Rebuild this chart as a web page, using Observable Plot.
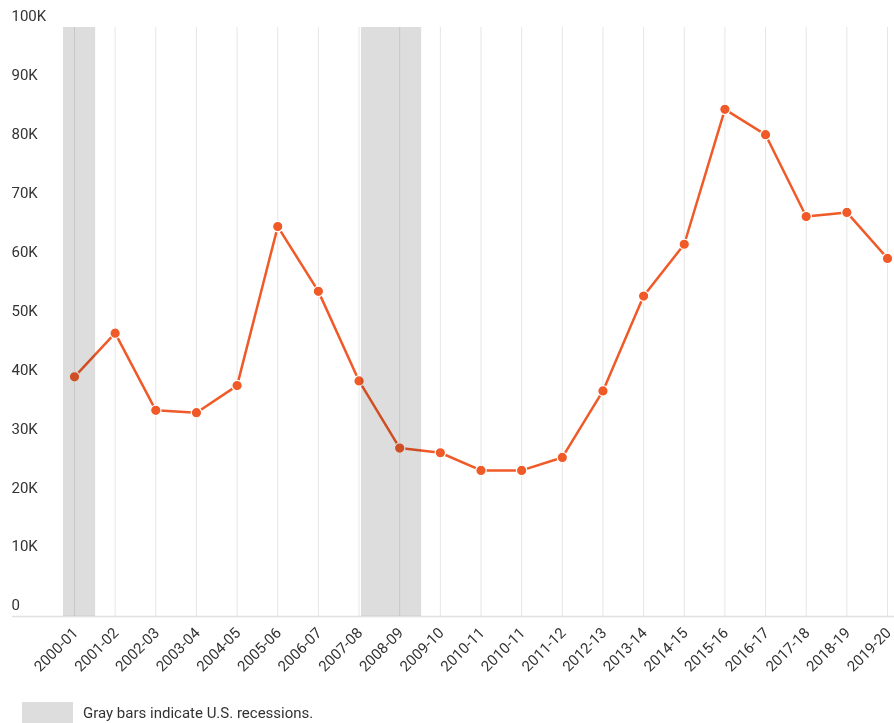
<!DOCTYPE html>
<html>
<head>
<meta charset="utf-8">
<script src="https://cdn.jsdelivr.net/npm/d3@7"></script>
<script src="https://cdn.jsdelivr.net/npm/@observablehq/plot@0.6"></script>
<style>
  html, body { margin: 0; padding: 0; background: #fff; }
  body { font-family: Roboto, "Open Sans", sans-serif; width: 894px; height: 723px; overflow: hidden; }
  #legend { display: flex; align-items: center; margin-left: 22px; margin-top: 12px; font-size: 15px; color: #333; }
  #legend .swatch { width: 51px; height: 22px; background: #dcdddc; margin-right: 10px; }
</style>
</head>
<body>
<div id="chart"></div>
<div id="legend"><div class="swatch"></div><span>Gray bars indicate U.S. recessions.</span></div>
<script>
const labels = ["2000-01","2001-02","2002-03","2003-04","2004-05","2005-06","2006-07","2007-08","2008-09","2009-10","2010-11","2010-11","2011-12","2012-13","2013-14","2014-15","2015-16","2016-17","2017-18","2018-19","2019-20"];
const values = [40700, 48100, 35000, 34600, 39200, 66200, 55200, 40000, 28600, 27800, 24800, 24800, 27000, 38300, 54400, 63200, 86100, 81800, 67900, 68600, 60800];
const recessionStart = [-0.27, 7.06];
const recessionEnd = [0.52, 8.54];
const yTicks = [0, 10000, 20000, 30000, 40000, 50000, 60000, 70000, 80000, 90000, 100000];

const data = values.map((v, i) => ({i, label: labels[i], value: v}));
const recessions = recessionStart.map((s, k) => ({start: s, end: recessionEnd[k]}));
const idx = labels.map((_, i) => i);

const chart = Plot.plot({
  width: 894,
  height: 690,
  marginLeft: 12,
  marginRight: 0,
  marginTop: 27,
  marginBottom: 74,
  style: {fontFamily: "Roboto, sans-serif", fontSize: "14px", color: "#333", background: "#fff"},
  x: {domain: [-1.525, 20.172], axis: null},
  y: {domain: [0, 100000], axis: null},
  marks: [
    Plot.ruleX(idx, {x: d => d, y1: 0, y2: 100000, stroke: "#e6e6e6", strokeWidth: 1}),
    Plot.ruleY([0], {stroke: "#e0e0e0", strokeWidth: 1.5}),
    Plot.line(data, {x: "i", y: "value", stroke: "#f05a28", strokeWidth: 2.5}),
    Plot.dot(data, {x: "i", y: "value", r: 5.2, fill: "#f05a28", stroke: "#fff", strokeWidth: 1.2}),
    Plot.rectX(recessions, {x1: "start", x2: "end", y1: 0, y2: 100000, fill: "#dcdddc", mixBlendMode: "multiply"}),
    Plot.text(yTicks, {y: d => d, frameAnchor: "left", text: d => d === 0 ? "0" : (d / 1000) + "K", textAnchor: "start", dx: -1, dy: -11, fill: "#333", fontSize: 15}),
    Plot.axisX({ticks: idx, tickFormat: i => labels[i], tickRotate: -45, tickSize: 0, tickPadding: 6, fontSize: 15, fill: "#333", dx: 1, dy: 8})
  ]
});
document.getElementById("chart").appendChild(chart);
</script>
</body>
</html>
